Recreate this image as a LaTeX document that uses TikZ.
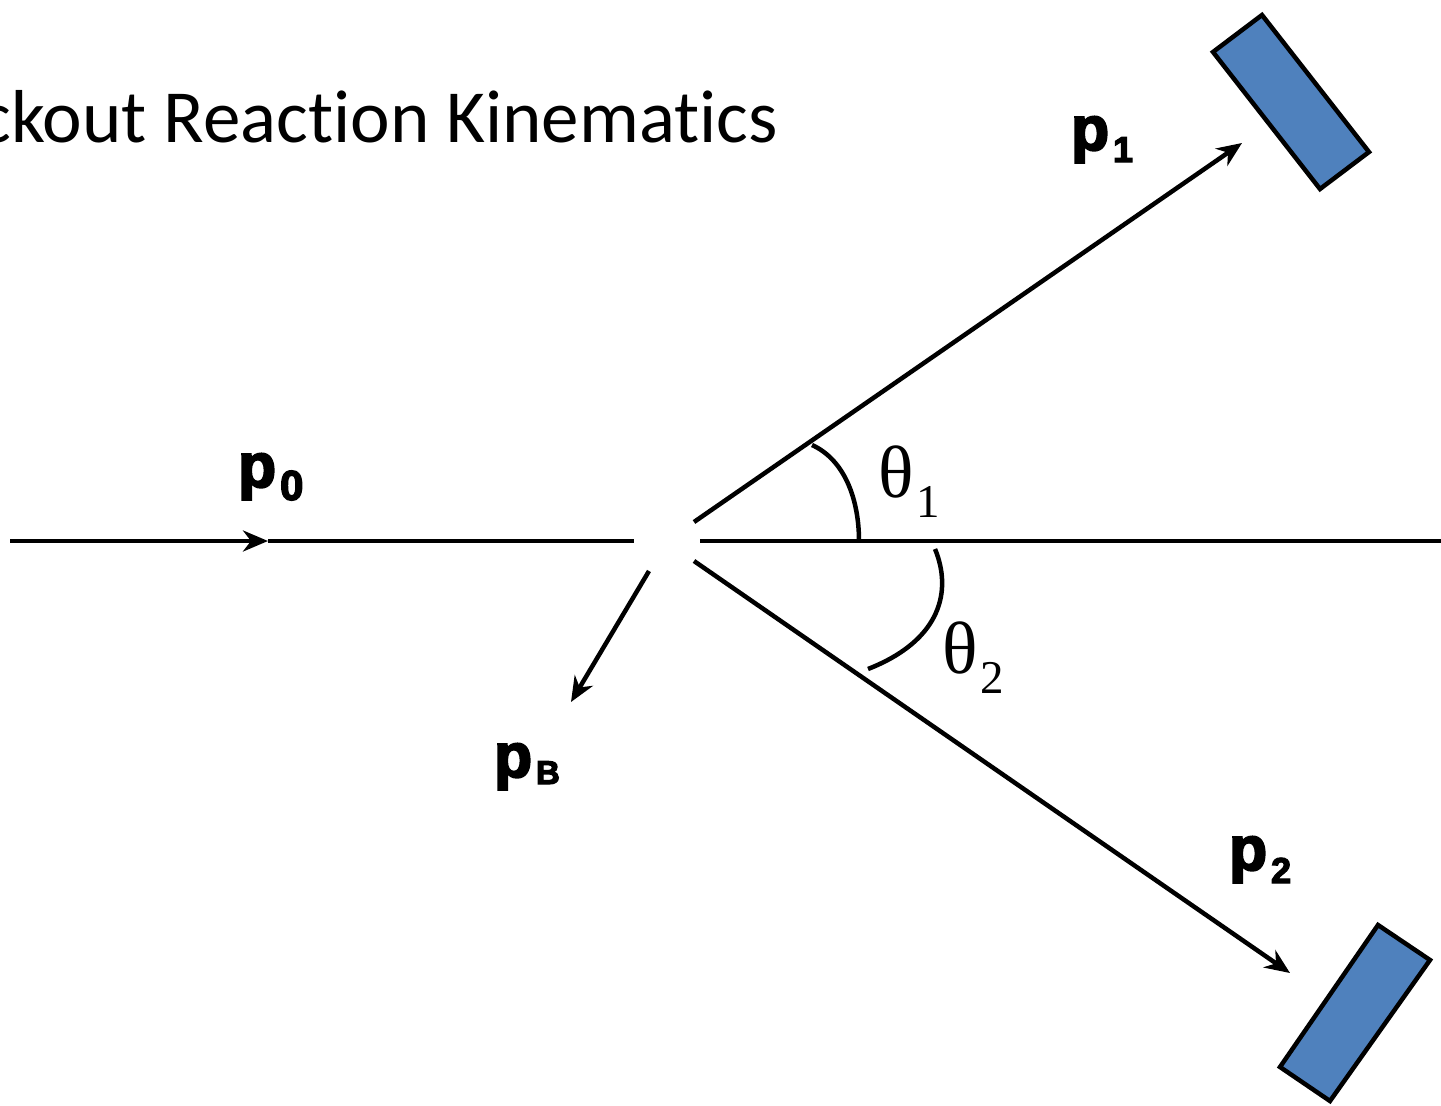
\documentclass[tikz,border=0pt]{standalone}
\usepackage{fontspec}
\setmainfont{Liberation Sans}
\newfontfamily\titlefont[Ligatures=NoCommon]{Carlito}
\newfontfamily\labfont[FakeBold=3.5]{Liberation Sans Bold}
\newfontfamily\thfont{Liberation Serif}
\usetikzlibrary{arrows.meta}
\definecolor{detblue}{HTML}{4F81BD}
\newcommand{\plab}[3]{{\labfont\fontsize{62}{62}\selectfont p\hspace{4pt}\raisebox{-#3pt}{\fontsize{#2}{#2}\selectfont #1}}}
\newcommand{\thlab}[1]{{\thfont\fontsize{74}{74}\selectfont θ\hspace{3pt}\raisebox{-20pt}{\fontsize{47}{47}\selectfont #1}}}
\begin{document}
\begin{tikzpicture}[x=1pt,y=-1pt,
  ln/.style={line width=4.5pt, black},
  arr/.style={ln, -{Stealth[length=25pt,width=21pt,inset=8pt]}},
  det/.style={line width=4.5pt, draw=black, fill=detblue, line join=miter},
  lab/.style={inner sep=0pt, anchor=base west}]
\useasboundingbox (0,0) rectangle (1441,1106);
\clip (0,0) rectangle (1441,1106);
% title
\node[inner sep=0pt, anchor=base east] (title) at (778,142) {\titlefont\fontsize{75}{75}\selectfont ckout Reaction Kinematics};
% coordinates
\coordinate (s0) at (10,541);
\coordinate (m0) at (268,541);
\coordinate (e0) at (634,541);
\coordinate (h1) at (700,541);
\coordinate (h2) at (1441,541);
\coordinate (a1) at (694,522);
\coordinate (t1) at (1242,143);
\coordinate (a2) at (694,561);
\coordinate (t2) at (1290,973);
\coordinate (ab) at (649,571);
\coordinate (tb) at (571,702);
% beam
\draw[arr] (s0) -- (m0);
\draw[ln] (m0) -- (e0);
\draw[ln] (h1) -- (h2);
% outgoing
\draw[arr] (a1) -- (t1);
\draw[arr] (a2) -- (t2);
\draw[arr] (ab) -- (tb);
% angle arcs
\coordinate (q1a) at (812,445);
\coordinate (q1b) at (859,541);
\coordinate (q2a) at (935,549);
\coordinate (q2b) at (868,669);
\draw[ln] (q1a) .. controls (845,460) and (859,500) .. (q1b);
\draw[ln] (q2a) .. controls (952,590) and (942,640) .. (q2b);
% detectors
\draw[det] (1213,52) -- (1262,15) -- (1369,152) -- (1320,189) -- cycle;
\draw[det] (1378,925) -- (1430,960) -- (1330,1101) -- (1280,1067) -- cycle;
% labels
\node[lab] (p0) at (238,487) {\plab{0}{42}{13}};
\node[lab] (p1) at (1071,150) {\plab{1}{36}{12}};
\node[lab] (pB) at (494,777) {\plab{B}{33}{7}};
\node[lab] (p2) at (1229,870) {\plab{2}{36}{13}};
\node[lab] (th1) at (878,497) {\thlab{1}};
\node[lab] (th2) at (942,673) {\thlab{2}};
\end{tikzpicture}
\end{document}
